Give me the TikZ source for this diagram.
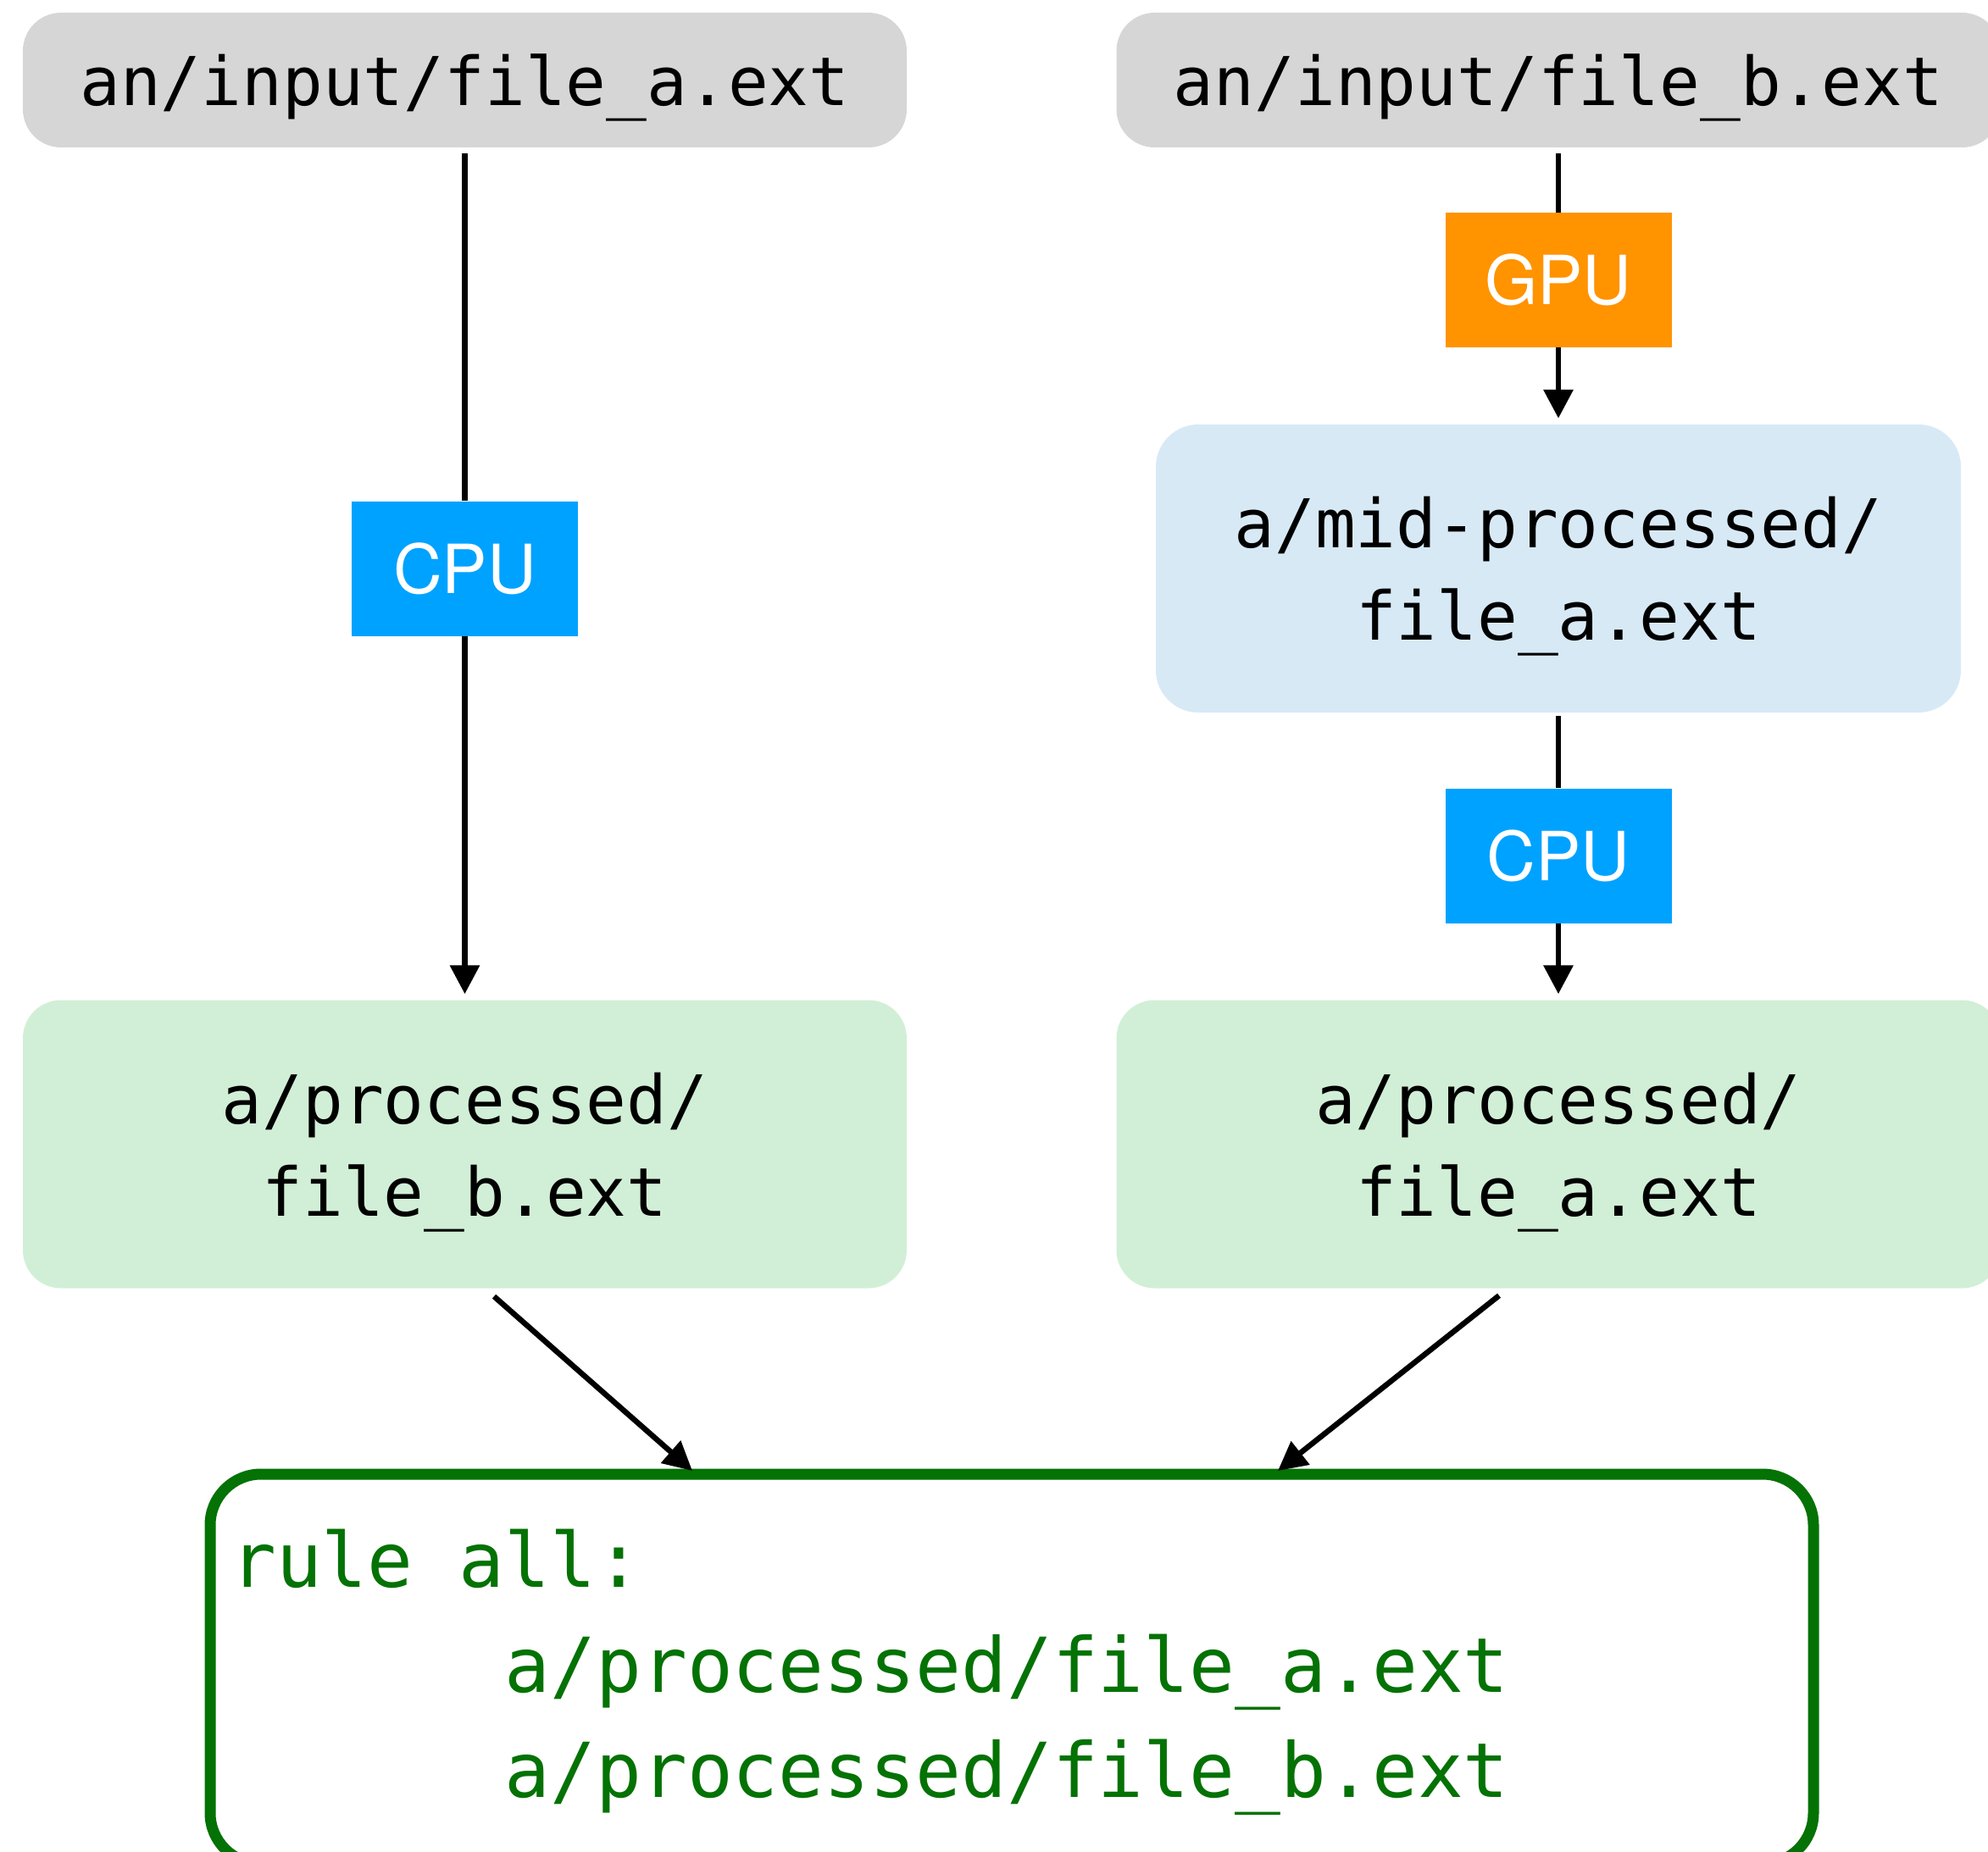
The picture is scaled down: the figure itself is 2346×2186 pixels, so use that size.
\documentclass[tikz,border=0pt]{standalone}
\usepackage{fontspec}
\newfontfamily\codefont{DejaVu Sans Mono}
\newfontfamily\tagfont{TeX Gyre Heros}
\usetikzlibrary{arrows.meta}

\definecolor{inputgray}{RGB}{214,214,214}
\definecolor{midblue}{RGB}{216,233,246}
\definecolor{donegreen}{RGB}{209,239,214}
\definecolor{cpublue}{RGB}{0,162,255}
\definecolor{gpuorange}{RGB}{255,147,0}
\definecolor{rulegreen}{RGB}{4,114,4}

\begin{document}
\begin{tikzpicture}[x=1pt,y=-1pt,
  filebox/.style={rounded corners=45pt, minimum width=1043pt, inner sep=0pt,
    text depth=0pt, align=center,
    font={\codefont\fontsize{79.4pt}{109pt}\selectfont}},
  inputbox/.style={filebox, fill=inputgray, minimum height=159pt},
  donebox/.style={filebox, fill=donegreen, minimum height=340pt},
  midbox/.style={filebox, fill=midblue, rounded corners=50pt,
    minimum width=950pt, minimum height=340pt},
  devtag/.style={minimum width=267pt, minimum height=159pt, inner sep=0pt,
    text=white, font={\tagfont\fontsize{80pt}{96pt}\selectfont}},
  cputag/.style={devtag, fill=cpublue},
  gputag/.style={devtag, fill=gpuorange},
  link/.style={line width=6.5pt, draw=black},
  flow/.style={link, -{Triangle[length=34pt,width=34pt]}, shorten >=7pt},
]
\useasboundingbox (0,0) rectangle (2346,2186);

% input files
\node[inputbox] (ina) at (548.5,94.5) {an/input/file\_a.ext};
\node[inputbox] (inb) at (1839,94.5) {an/input/file\_b.ext};

% processing steps
\node[cputag] (cpua) at (548.5,671) {CPU};
\node[gputag] (gpu) at (1839,330.5) {GPU};
\node[midbox] (mid) at (1839,671) {a/mid-processed/\\file\_a.ext};
\node[cputag] (cpub) at (1839,1010) {CPU};

% results
\node[donebox] (pa) at (548.5,1350.5) {a/processed/\\file\_b.ext};
\node[donebox] (pb) at (1839,1350.5) {a/processed/\\file\_a.ext};

% target rule
\node[draw=rulegreen, line width=13pt, rounded corners=60pt, outer sep=0pt,
  minimum width=1892pt, minimum height=460pt] (rule) at (1194,1970) {};
\node[anchor=base west, align=left, inner sep=0pt, text=rulegreen,
  font={\codefont\fontsize{89.5pt}{123.6pt}\selectfont}] (ruletext) at (272,2121)
  {rule all:\\
   \hphantom{aaaaaa}a/processed/file\_a.ext\\
   \hphantom{aaaaaa}a/processed/file\_b.ext};

% connectors
\draw[link] (ina.south) ++(0,7) -- (cpua.north);
\draw[flow] (cpua.south) -- (pa.north);
\draw[link] (inb.south) ++(0,7) -- (gpu.north);
\draw[flow] (gpu.south) -- (mid.north);
\draw[link] (mid.south) ++(0,4) -- (cpub.north);
\draw[flow] (cpub.south) -- (pb.north);
\draw[link, -{Triangle[length=34pt,width=34pt]}]
  ([shift={(34.5,9.5)}]pa.south) -- ([shift={(-377,-4)}]rule.north);
\draw[link, -{Triangle[length=34pt,width=34pt]}]
  ([shift={(-70,8.5)}]pb.south) -- ([shift={(314,-4)}]rule.north);
\end{tikzpicture}
\end{document}
